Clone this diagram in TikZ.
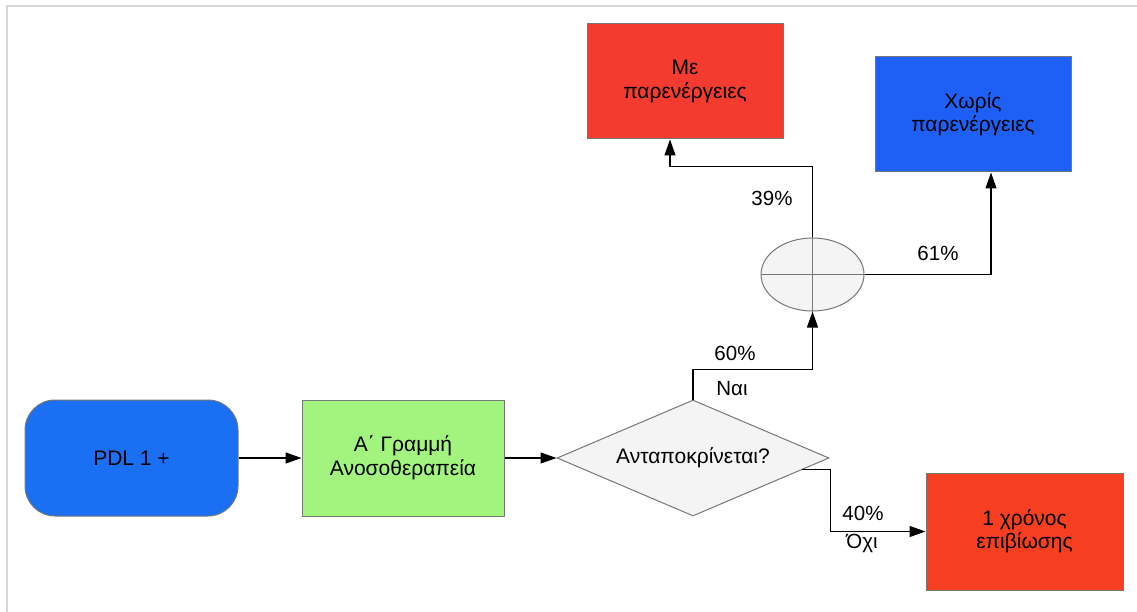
\documentclass[tikz,border=0pt]{standalone}
\usepackage{fontspec}
\setmainfont{Liberation Sans}
\usetikzlibrary{arrows.meta,shapes.geometric,calc}
\definecolor{framegray}{HTML}{D6D6D6}
\definecolor{edgegray}{HTML}{777777}
\definecolor{pdlblue}{HTML}{1A6FF3}
\definecolor{okblue}{HTML}{1E5FF6}
\definecolor{txgreen}{HTML}{A2F47F}
\definecolor{sidered}{HTML}{F43B30}
\definecolor{survred}{HTML}{F63F20}
\definecolor{paleface}{HTML}{F4F4F4}
\begin{document}
\begin{tikzpicture}[x=1pt,y=-1pt,
  txt/.style={font=\fontsize{21}{23.5}\selectfont, align=center, text=black},
  box/.style={txt, draw=edgegray, line width=1pt, inner sep=0pt},
  lab/.style={font=\fontsize{20.5}{23}\selectfont, inner sep=0pt},
  arr/.style={draw=black, line width=1.2pt, -{Triangle[length=16pt,width=11pt]}},
  plain/.style={draw=black, line width=1.2pt}]
\useasboundingbox (0,0) rectangle (1137,612);
% page frame
\draw[framegray, line width=1.5pt] (7,612) -- (7,6) -- (1137,6);

% main flow
\node[box, fill=pdlblue, rounded corners=30pt, minimum width=213pt, minimum height=116pt] (pdl) at (131.5,458) {PDL 1 +};
\node[box, fill=txgreen, minimum width=202pt, minimum height=116pt] (tx) at (403,458) {Α΄ Γραμμή\\Ανοσοθεραπεία};
\node[box, fill=paleface, diamond, shape aspect=2.345, minimum width=272pt, minimum height=116pt, inner sep=2pt] (dia) at (693,458) {Ανταποκρίνεται?};

% outcomes
\node[draw=edgegray, line width=1pt, fill=paleface, ellipse, minimum width=103pt, minimum height=73pt, inner sep=0pt] (ell) at (812.5,274.5) {};
\draw[edgegray, line width=1pt] (ell.north) -- (ell.south) (ell.west) -- (ell.east);
\node[box, fill=sidered, minimum width=196pt, minimum height=115pt] (red) at (685,81.5) {Με\\παρενέργειες};
\node[box, fill=okblue, minimum width=196pt, minimum height=115pt] (blue) at (973,114.5) {Χωρίς\\παρενέργειες};
\node[box, fill=survred, minimum width=197pt, minimum height=117pt] (surv) at (1024.5,531.5) {1 χρόνος\\επιβίωσης};

% connectors
\draw[arr] (pdl) -- (tx);
\draw[arr] (tx) -- (dia);
\draw[arr] (dia.north) -- ++(0,-30) -| (ell.south);
\draw[arr] (ell.north) -- ++(0,-71) -| ($(red.south)+(-15,0)$);
\draw[arr] (ell.east) -| ($(blue.south)+(18,0)$);
\coordinate (noexit) at ($(dia.east)!0.2!(dia.south)$);
\draw[arr] (noexit) -- ++(28,0) |- (surv.west);

% branch labels
\node[lab, anchor=base] (p60) at (735,360) {60\%};
\node[lab, anchor=base] (yes) at (732,395) {Ναι};
\node[lab, anchor=base] (p39) at (772,206) {39\%};
\node[lab, anchor=base] (p61) at (938,261) {61\%};
\node[lab, anchor=base] (p40) at (863,520) {40\%};
\node[lab, anchor=base] (no) at (862,548) {Όχι};
\end{tikzpicture}
\end{document}
